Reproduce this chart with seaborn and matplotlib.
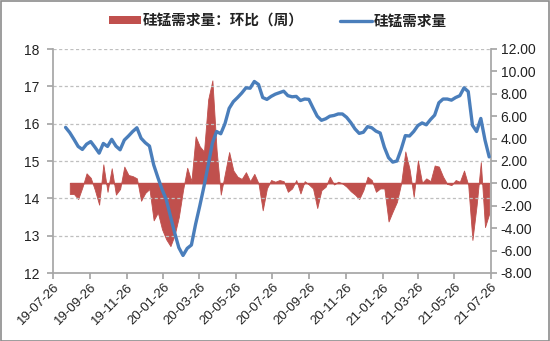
import numpy as np
import pandas as pd
import matplotlib
matplotlib.use("Agg")
import matplotlib.pyplot as plt
from matplotlib.patches import Patch, Rectangle
from matplotlib.lines import Line2D
from matplotlib.ticker import FuncFormatter, FixedLocator
import seaborn as sns

# ---------------- data ----------------
start_date = "2019-08-16"
demand = [15.90, 15.76, 15.58, 15.39, 15.31, 15.45, 15.52, 15.37, 15.21, 15.47,
          15.39, 15.58, 15.40, 15.30, 15.56, 15.67, 15.79, 15.89, 15.61, 15.49,
          15.40, 14.90, 14.56, 14.24, 13.97, 13.52, 13.08, 12.68, 12.47, 12.66,
          12.75, 13.31, 13.80, 14.32, 14.89, 15.48, 15.79, 15.73, 16.00, 16.41,
          16.59, 16.70, 16.82, 16.96, 16.95, 17.13, 17.05, 16.70, 16.65, 16.73,
          16.79, 16.83, 16.87, 16.75, 16.72, 16.73, 16.62, 16.66, 16.65, 16.42,
          16.20, 16.09, 16.13, 16.20, 16.22, 16.26, 16.26, 16.17, 16.03, 15.86,
          15.74, 15.77, 15.92, 15.89, 15.80, 15.75, 15.37, 15.09, 14.97, 15.00,
          15.31, 15.68, 15.67, 15.79, 15.95, 16.02, 15.97, 16.11, 16.23, 16.56,
          16.66, 16.66, 16.63, 16.70, 16.75, 16.96, 16.86, 15.96, 15.79, 16.14,
          15.56, 15.11]
wow_change = [-0.94, -0.95, -1.40, -0.35, 0.90, 0.50, -0.60, -1.90, 1.70,
              -0.75, 1.35, -1.00, -0.50, 1.50, 0.75, 0.65, 0.45, -1.55, -0.85,
              -0.50, -3.30, -2.60, -4.10, -5.00, -5.60, -4.60, -3.00, -0.60, 1.40,
              0.20, 4.20, 3.30, 2.85, 7.50, 9.20, 3.00, -1.00, 0.90, 2.80,
              1.15, 0.60, 0.40, 1.00, 0.20, 0.85, 0.00, -2.40, -0.45, 0.30,
              0.15, 0.30, 0.20, -0.75, -0.45, 0.30, -0.90, 0.20, -0.10, -0.45,
              -2.20, -0.60, -0.30, 0.60, -0.10, 0.15, 0.00, -0.30, -0.70, -1.00,
              -1.40, -0.60, 0.60, 0.30, -0.75, -0.45, -0.45, -3.40, -2.50, -1.65,
              0.00, 2.85, 1.30, -1.20, 2.05, 0.05, 0.45, 0.20, 1.60, 1.50,
              0.60, -0.05, -0.15, 0.30, 0.15, 1.15, -0.15, -5.05, -1.95, 1.90,
              -3.90, -2.70]
tick_dates = ["2019-07-26", "2019-09-26", "2019-11-26", "2020-01-26", "2020-03-26",
              "2020-05-26", "2020-07-26", "2020-09-26", "2020-11-26", "2021-01-26",
              "2021-03-26", "2021-05-26", "2021-07-26"]
left_ticks = [12, 13, 14, 15, 16, 17, 18]
right_ticks = [-8, -6, -4, -2, 0, 2, 4, 6, 8, 10, 12]
label_area = "硅锰需求量：环比（周）"
label_line = "硅锰需求量"

dates = pd.date_range(start_date, periods=len(demand), freq="7D")
df_line = pd.DataFrame({"date": dates, "value": demand})
df_area = pd.DataFrame({"date": dates[1:], "value": wow_change})

# ---------------- style ----------------
sns.set_theme(style="white")
plt.rcParams["font.family"] = ["Liberation Sans", "Noto Sans CJK SC", "DejaVu Sans"]

RED = "#C0504D"
BLUE = "#4A7EBB"
GRAY = "#A6A6A6"
TXT = "#222222"

fig = plt.figure(figsize=(5.5, 3.41), dpi=100)
fig.patch.set_facecolor("white")
fig.patches.append(Rectangle((0.001, 0.001), 0.997, 0.996, transform=fig.transFigure,
                             fill=False, edgecolor="#8C8C8C", linewidth=1.2))

pos = [53 / 550, 1 - 273 / 341, (491 - 53) / 550, (273 - 49) / 341]
ax = fig.add_axes(pos)          # area axis (right scale)
ax_l = ax.twinx()               # line axis (left scale)

# area on right axis
ax.fill_between(df_area["date"], 0, df_area["value"], color=RED, edgecolor=RED,
                linewidth=0.6, zorder=2)
ax.plot(df_area["date"], np.zeros(len(df_area)), color=RED, linewidth=1.0, zorder=2)
ax.set_ylim(-8, 12)
ax.yaxis.set_major_locator(FixedLocator(right_ticks))
ax.yaxis.set_major_formatter(FuncFormatter(lambda v, p: f"{v:.2f}"))
ax.yaxis.tick_right()
ax.yaxis.set_label_position("right")

# line on left axis
sns.lineplot(data=df_line, x="date", y="value", ax=ax_l, color=BLUE, linewidth=2.4,
             zorder=3)
ax_l.set_ylim(12, 18)
ax_l.yaxis.set_major_locator(FixedLocator(left_ticks))
ax_l.yaxis.tick_left()
ax_l.yaxis.set_label_position("left")
ax_l.set_xlabel("")
ax_l.set_ylabel("")
ax.set_ylabel("")

xt = pd.to_datetime(tick_dates)
for a in (ax, ax_l):
    a.set_xlim(xt[0], xt[-1])
    a.set_xticks(xt)
ax.set_xticklabels([d.strftime("%y-%m-%d") for d in xt], rotation=45, ha="right",
                   rotation_mode="anchor", fontsize=9.5, color=TXT)
ax_l.tick_params(axis="x", labelbottom=False, bottom=False)

# grid (dotted) from left scale
for v in left_ticks[1:]:
    ax_l.axhline(v, color="#BFBFBF", linestyle=(0, (2.5, 2)), linewidth=0.9, zorder=1)

for a in (ax, ax_l):
    for s in a.spines.values():
        s.set_visible(False)
ax.spines["bottom"].set_visible(True)
ax.spines["bottom"].set_color(GRAY)
ax.spines["right"].set_visible(True)
ax.spines["right"].set_color(GRAY)
ax_l.spines["left"].set_visible(True)
ax_l.spines["left"].set_color(GRAY)

ax.tick_params(axis="y", which="major", right=True, left=False, length=4, color=GRAY,
               labelsize=10, labelcolor=TXT, pad=3)
ax.tick_params(axis="x", bottom=True, length=4, color=GRAY, pad=2)
ax_l.tick_params(axis="y", left=True, right=False, length=4, color=GRAY,
                 labelsize=10, labelcolor=TXT, pad=6)
ax.patch.set_visible(False)
ax_l.patch.set_visible(False)

handles = [Patch(facecolor=RED, edgecolor="none"),
           Line2D([0], [0], color=BLUE, linewidth=2.4)]
leg = fig.legend(handles, [label_area, label_line], loc="center",
                 bbox_to_anchor=(0.505, 0.94), ncol=2, frameon=False,
                 handlelength=2.2, handleheight=0.45, handletextpad=0.1,
                 columnspacing=2.5, prop={"family": ["Noto Sans CJK SC"], "size": 10.5,
                                          "weight": "bold"})
for t in leg.get_texts():
    t.set_color(TXT)

fig.savefig("out.png", dpi=100)
